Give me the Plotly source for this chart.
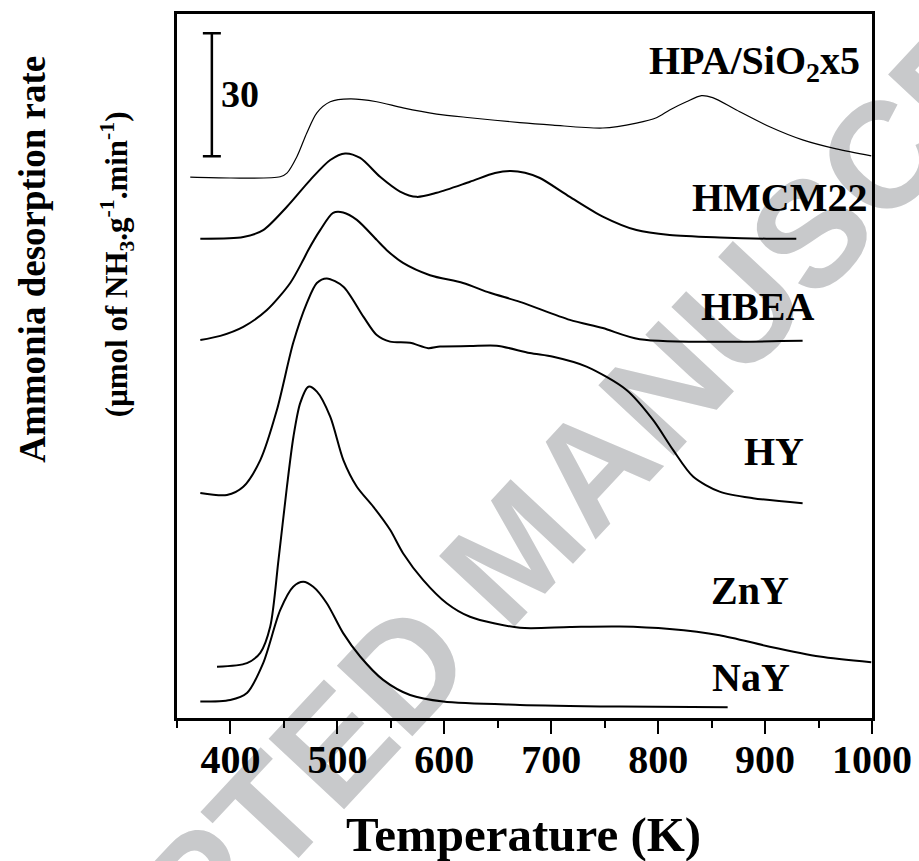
import plotly.graph_objects as go

# NH3-TPD profiles, stacked with vertical offsets (arbitrary units; scale bar = 30)
hpa_T = [362.4, 399.8, 446.5, 452.8, 462.1, 471.4, 480.8, 493.3, 511.9, 536.8, 561.4, 592.9,
         624.0, 670.7, 701.5, 748.2, 779.7, 798.4, 810.8, 826.4, 840.5, 851.0, 873.2, 904.3,
         935.1, 966.6, 999.3]
hpa_y = [131.9, 131.7, 132.0, 132.9, 136.9, 142.7, 147.6, 150.3, 151.0, 150.3, 148.8, 147.3,
         146.4, 145.2, 144.6, 143.9, 145.1, 146.4, 148.3, 150.3, 151.8, 151.3, 148.3, 144.2,
         141.0, 138.8, 137.1]

hmcm_T = [371.8, 412.0, 430.6, 452.8, 474.5, 493.3, 507.2, 521.3, 539.9, 558.6, 574.2, 592.9,
          624.0, 647.4, 661.4, 675.4, 689.4, 717.4, 748.2, 779.7, 810.8, 857.5, 901.2, 929.2]
hmcm_y = [116.9, 117.3, 119.0, 124.7, 131.2, 136.1, 137.7, 136.6, 132.0, 128.4, 127.1, 128.1,
          130.8, 132.9, 133.4, 133.0, 131.7, 127.1, 122.3, 119.0, 117.8, 117.2, 116.9, 116.9]

hbea_T = [371.8, 390.5, 412.0, 434.1, 455.9, 468.0, 472.7, 483.9, 496.0, 505.4, 518.2, 536.8,
          546.2, 561.4, 586.6, 617.5, 642.7, 670.7, 717.4, 748.2, 782.8, 935.1]
hbea_y = [92.2, 93.2, 95.4, 99.5, 106.1, 111.7, 114.1, 119.0, 123.2, 123.3, 121.5, 116.6,
          114.1, 111.0, 108.0, 106.1, 103.7, 101.5, 97.1, 95.1, 92.4, 92.0]

hy_T = [371.8, 396.7, 412.0, 427.9, 443.4, 458.7, 471.4, 480.8, 490.1, 505.6, 524.3, 536.8,
        549.3, 567.9, 585.0, 596.0, 624.0, 648.9, 680.0, 701.8, 733.0, 770.4, 795.2, 813.9,
        832.6, 857.5, 888.7, 935.1]
hy_y = [54.9, 54.4, 56.4, 62.9, 75.1, 91.5, 101.2, 106.1, 107.2, 105.2, 97.9, 93.4,
        91.8, 91.5, 90.2, 90.6, 90.7, 90.8, 89.0, 88.1, 85.7, 80.0, 72.7, 65.4,
        58.9, 55.2, 53.6, 52.4]

zny_T = [387.4, 415.4, 427.9, 437.2, 444.9, 452.8, 458.9, 465.2, 472.9, 480.8, 493.3, 505.6,
         518.2, 533.7, 549.3, 561.4, 580.1, 602.2, 624.0, 670.7, 717.4, 764.1, 810.8, 857.5,
         904.3, 951.0, 999.3]
zny_y = [12.5, 13.4, 15.9, 22.3, 38.5, 56.4, 68.6, 76.8, 80.8, 79.6, 73.5, 62.9,
         56.4, 51.5, 45.9, 40.2, 33.7, 28.0, 24.7, 22.0, 22.2, 22.3, 21.7, 20.2,
         17.4, 15.0, 13.6]

nay_T = [371.8, 399.8, 415.4, 430.6, 446.5, 458.7, 468.0, 477.4, 490.1, 505.4, 521.3, 542.8,
         568.0, 598.9, 670.7, 764.1, 865.0]
nay_y = [4.0, 4.4, 6.1, 13.4, 26.3, 32.0, 33.2, 32.0, 28.0, 20.7, 15.0, 9.3,
         5.6, 4.0, 3.2, 2.8, 2.6]

series = [
    ("HPA/SiO<sub>2</sub>x5", hpa_T, hpa_y, 1.2, 991.0, 159.8, "right"),
    ("HMCM22", hmcm_T, hmcm_y, 2.0, 914.1, 126.9, "center"),
    ("HBEA", hbea_T, hbea_y, 2.0, 892.6, 100.4, "center"),
    ("HY", hy_T, hy_y, 2.0, 908.0, 65.1, "center"),
    ("ZnY", zny_T, zny_y, 2.0, 886.0, 31.0, "center"),
    ("NaY", nay_T, nay_y, 2.0, 886.5, 9.9, "center"),
]

# scale bar
SCALE_BAR = 30
scale_T = 382.6
scale_bottom = 137.0

x_ticks = [400, 500, 600, 700, 800, 900, 1000]

SERIF = "Liberation Serif, Times New Roman, serif"

fig = go.Figure()

for name, T, y, lw, lx, ly, anchor in series:
    fig.add_trace(go.Scatter(
        x=T, y=y, mode="lines", name=name,
        line=dict(color="black", width=lw, shape="spline", smoothing=0.8),
        hoverinfo="skip", showlegend=False,
    ))
    fig.add_annotation(
        x=lx, y=ly, xref="x", yref="y", text=f"<b>{name}</b>", showarrow=False,
        xanchor=anchor, yanchor="middle",
        font=dict(family=SERIF, size=40, color="black"),
    )

# vertical scale bar drawn as a symmetric error bar
fig.add_trace(go.Scatter(
    x=[scale_T], y=[scale_bottom + SCALE_BAR / 2], mode="markers",
    marker=dict(size=1, color="rgba(0,0,0,0)"),
    error_y=dict(type="constant", value=SCALE_BAR / 2, color="black", thickness=2.5, width=9),
    hoverinfo="skip", showlegend=False,
))
fig.add_annotation(
    x=409.0, y=scale_bottom + SCALE_BAR / 2 + 0.3, xref="x", yref="y",
    text=f"<b>{SCALE_BAR}</b>", showarrow=False, xanchor="center", yanchor="middle",
    font=dict(family=SERIF, size=38, color="black"),
)

# y-axis title in two rotated lines
fig.add_annotation(
    x=-0.207, y=0.651, xref="paper", yref="paper", textangle=-90,
    text="<b>Ammonia desorption rate</b>", showarrow=False,
    xanchor="center", yanchor="middle",
    font=dict(family=SERIF, size=37, color="black"),
)
fig.add_annotation(
    x=-0.086, y=0.645, xref="paper", yref="paper", textangle=-90,
    text="<b>(\u03bcmol of NH<sub>3</sub>.g<sup>-1</sup>.min<sup>-1</sup>)</b>", showarrow=False,
    xanchor="center", yanchor="middle",
    font=dict(family=SERIF, size=31, color="black"),
)

# x-axis title
fig.add_annotation(
    x=0.4986, y=-0.165, xref="paper", yref="paper",
    text="<b>Temperature (K)</b>", showarrow=False,
    xanchor="center", yanchor="middle",
    font=dict(family=SERIF, size=49, color="black"),
)

# diagonal watermark behind the curves
fig.add_shape(
    type="line", xref="paper", yref="paper",
    x0=0.1776, y0=-0.0588, x1=0.7663, y1=0.5645,
    line=dict(color="rgba(0,0,0,0)", width=0), layer="below",
    label=dict(
        text="<b>ACCEPTED MANUSCRIPT</b>", textangle=-47, textposition="middle",
        xanchor="center", yanchor="middle",
        font=dict(family="Liberation Sans, Arial, sans-serif", size=150, color="#c8c9cb"),
    ),
)

fig.update_layout(
    width=919, height=861,
    margin=dict(l=177, r=47, t=14, b=143, autoexpand=False),
    paper_bgcolor="white", plot_bgcolor="white",
    showlegend=False,
)
fig.update_xaxes(
    range=[350, 1000], tickvals=x_ticks, ticktext=[f"<b>{v}</b>" for v in x_ticks],
    ticks="outside", ticklen=13, tickwidth=2, tickcolor="black",
    minor=dict(dtick=50, tick0=350, ticks="outside", ticklen=7, tickwidth=2, tickcolor="black", showgrid=False),
    showline=True, linewidth=2.5, linecolor="black", mirror=True,
    showgrid=False, zeroline=False, automargin=False,
    ticklabelstandoff=-9,
    tickfont=dict(family=SERIF, size=40, color="black"),
)
fig.update_yaxes(
    range=[0, 171.7], showticklabels=False, ticks="",
    showline=True, linewidth=2.5, linecolor="black", mirror=True,
    showgrid=False, zeroline=False, automargin=False,
)

fig.write_html("out.html")
